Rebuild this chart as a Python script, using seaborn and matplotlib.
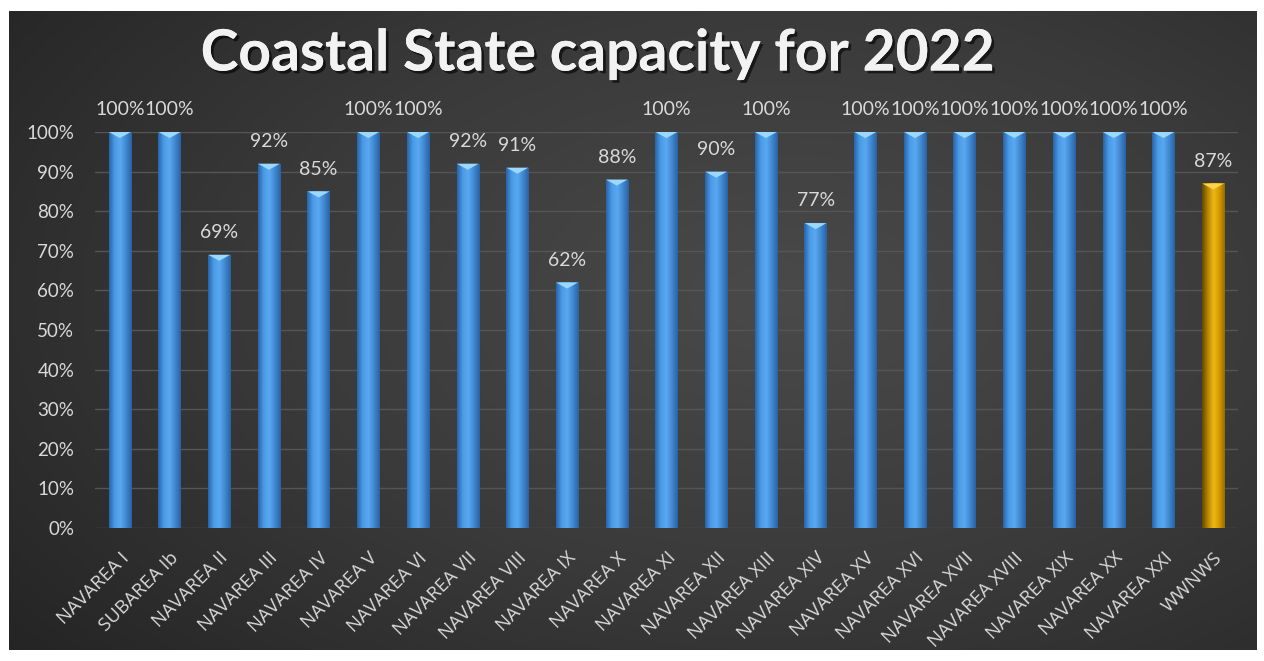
import numpy as np
import pandas as pd
import matplotlib
matplotlib.use("Agg")
import matplotlib.pyplot as plt
import seaborn as sns
from matplotlib.path import Path
from matplotlib.colors import LinearSegmentedColormap
import matplotlib.patheffects as pe

categories = ["NAVAREA I", "SUBAREA Ib", "NAVAREA II", "NAVAREA III", "NAVAREA IV",
              "NAVAREA V", "NAVAREA VI", "NAVAREA VII", "NAVAREA VIII", "NAVAREA IX",
              "NAVAREA X", "NAVAREA XI", "NAVAREA XII", "NAVAREA XIII", "NAVAREA XIV",
              "NAVAREA XV", "NAVAREA XVI", "NAVAREA XVII", "NAVAREA XVIII", "NAVAREA XIX",
              "NAVAREA XX", "NAVAREA XXI", "WWNWS"]
values = [1.00, 1.00, 0.69, 0.92, 0.85, 1.00, 1.00, 0.92, 0.91, 0.62,
          0.88, 1.00, 0.90, 1.00, 0.77, 1.00, 1.00, 1.00, 1.00, 1.00,
          1.00, 1.00, 0.87]
groups = ["NAVAREA"] * 22 + ["WWNWS"]
yticks = [0, 0.1, 0.2, 0.3, 0.4, 0.5, 0.6, 0.7, 0.8, 0.9, 1.0]
title = "Coastal State capacity for 2022"

df = pd.DataFrame({"area": categories, "value": values, "group": groups})

sns.set_theme(style="dark")
plt.rcParams["font.family"] = ["Lato", "DejaVu Sans"]

W, H = 1264, 661
fig = plt.figure(figsize=(W / 100, H / 100), dpi=100, facecolor="white")

# background panel with radial gradient
bg = fig.add_axes([9 / W, 11 / H, (1257 - 9) / W, (650 - 11) / H])
bg.set_axis_off()
yy, xx = np.mgrid[0:1:300j, 0:1:600j]
r = np.sqrt(((xx - 0.62) / 0.8) ** 2 + ((yy - 0.45) / 0.9) ** 2)
r = np.clip(r, 0, 1)
bgcmap = LinearSegmentedColormap.from_list("bg", ["#4a4a4a", "#3a3a3a", "#242424"])
bg.imshow(r, cmap=bgcmap, aspect="auto", extent=[0, 1, 0, 1], vmin=0, vmax=1)
bg.set_xlim(0, 1)
bg.set_ylim(0, 1)

ax = fig.add_axes([95 / W, 1 - 528 / H, (1238 - 95) / W, (528 - 132) / H])
ax.set_facecolor("none")
ax.patch.set_alpha(0)

palette = {"NAVAREA": "#3f8fd8", "WWNWS": "#e0a800"}
sns.barplot(data=df, x="area", y="value", hue="group", palette=palette,
            dodge=False, width=0.45, legend=False, ax=ax, saturation=1)

ax.set_xlim(-0.5, len(categories) - 0.5)
ax.set_ylim(0, 1)

blue_cmap = LinearSegmentedColormap.from_list("b", ["#2a64a8", "#4a9be8", "#5aa8f0", "#3f88d0", "#2a62a4"])
gold_cmap = LinearSegmentedColormap.from_list("g", ["#8a6200", "#d9a000", "#ffc61a", "#d09a00", "#8a6200"])
grad = np.linspace(0, 1, 64).reshape(1, -1)
for patch, grp in zip(ax.patches, groups):
    x0 = patch.get_x()
    w = patch.get_width()
    h = patch.get_height()
    if grp == "WWNWS":
        g2 = np.linspace(0, 1, 64)[None, :] * np.ones((64, 1))
        vert = np.linspace(0, 1, 64)[:, None]
        img = gold_cmap(g2)
        img[..., :3] = img[..., :3] * (0.75 + 0.35 * vert)
        img = np.clip(img, 0, 1)
        im = ax.imshow(img, extent=[x0, x0 + w, 0, h], aspect="auto", zorder=3, origin="upper")
    else:
        im = ax.imshow(grad, cmap=blue_cmap, extent=[x0, x0 + w, 0, h], aspect="auto", zorder=3)
    im.set_clip_path(patch)
    patch.set_edgecolor("none")

# triangular caps on bar tops
cap = Path([(-1, 0), (1, 0), (0, -0.55), (-1, 0)],
           [Path.MOVETO, Path.LINETO, Path.LINETO, Path.CLOSEPOLY])
xs = np.arange(len(categories))
cap_colors = ["#9ad8ff" if g == "NAVAREA" else "#ffd24a" for g in groups]
ax.scatter(xs, values, marker=cap, s=250, c=cap_colors, linewidths=0, zorder=4, clip_on=False)

for x, v in zip(xs, values):
    ax.annotate(f"{round(v * 100)}%", (x, v), xytext=(0, 10), textcoords="offset points",
                ha="center", va="bottom", color="#d9d9d9", fontsize=14, annotation_clip=False)

ax.set_yticks(yticks)
ax.set_yticklabels([f"{round(t * 100)}%" for t in yticks])
ax.yaxis.grid(True, color="#555555", linewidth=1)
ax.xaxis.grid(False)
ax.set_axisbelow(True)
for s in ax.spines.values():
    s.set_visible(False)
ax.tick_params(axis="y", colors="#d9d9d9", labelsize=13.5, length=0, pad=15)
ax.set_xticks(xs)
ax.set_xticklabels(categories, rotation=45, ha="right", rotation_mode="anchor",
                   fontfamily=["Open Sans", "DejaVu Sans"], fontsize=13.5, color="#d9d9d9")
ax.tick_params(axis="x", length=0, pad=15)
ax.set_xlabel("")
ax.set_ylabel("")

fig.text(598 / W, 1 - 54 / H, title, ha="center", va="center", color="#f2f2f2",
         fontsize=41, fontweight="bold",
         path_effects=[pe.withSimplePatchShadow(offset=(2, -2), shadow_rgbFace="black", alpha=0.6),
                       pe.Normal()])

fig.savefig("out.png", dpi=100, facecolor="white")
